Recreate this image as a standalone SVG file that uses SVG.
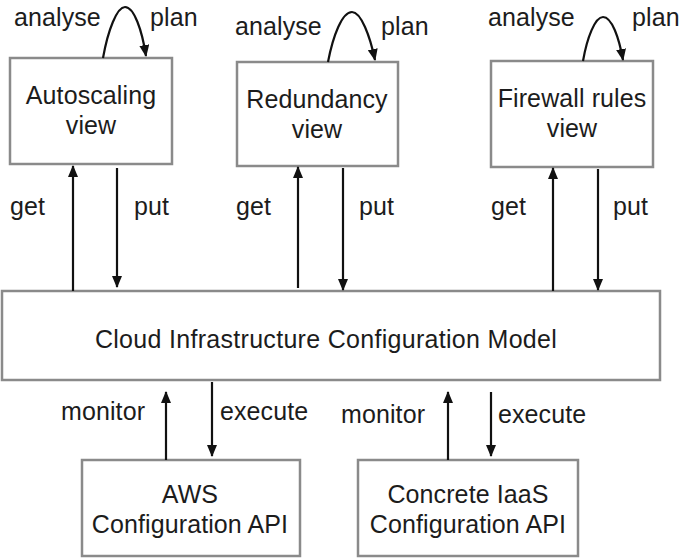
<svg xmlns="http://www.w3.org/2000/svg" width="685" height="559" viewBox="0 0 685 559">
<style>
.box{fill:#fff;stroke:#8a8a8a;stroke-width:2.5}
.t{font-family:"Liberation Sans",Arial,sans-serif;font-size:25px;fill:#1c1c1c;letter-spacing:0.1px}
.c{text-anchor:middle}
.w{letter-spacing:0.3px}
.a{fill:none;stroke:#111;stroke-width:2.2}
</style>
<defs>
<marker id="arr" viewBox="0 0 12 10" refX="11" refY="5" markerWidth="12" markerHeight="10" markerUnits="userSpaceOnUse" orient="auto"><path d="M0,0 L12,5 L0,10 z" fill="#111"/></marker>
</defs>
<rect width="685" height="559" fill="#fff"/>
<g id="autoscaling">
<rect class="box" x="10" y="58" width="162" height="106"/>
<text class="t c" x="91" y="104">Autoscaling</text>
<text class="t c" x="91" y="134">view</text>
</g>
<g id="redundancy">
<rect class="box" x="237" y="62" width="161" height="104"/>
<text class="t c" x="317" y="108">Redundancy</text>
<text class="t c" x="317" y="138">view</text>
</g>
<g id="firewall">
<rect class="box" x="491" y="61" width="162" height="106"/>
<text class="t c" x="572" y="107">Firewall rules</text>
<text class="t c" x="572" y="137">view</text>
</g>
<g id="model">
<rect class="box" x="2" y="291" width="658" height="89"/>
<text class="t c w" x="326" y="348">Cloud Infrastructure Configuration Model</text>
</g>
<g id="aws">
<rect class="box" x="82" y="460" width="218" height="96"/>
<text class="t c" x="190" y="503">AWS</text>
<text class="t c" x="190" y="533">Configuration API</text>
</g>
<g id="iaas">
<rect class="box" x="358" y="460" width="220" height="96"/>
<text class="t c" x="468" y="503">Concrete IaaS</text>
<text class="t c" x="468" y="533">Configuration API</text>
</g>
<g id="connectors">
<path class="a" d="M103,58 C108,30 117,7 125,7 C134,7 142,30 146,56" marker-end="url(#arr)"/>
<path class="a" d="M328,62 C333,36 342,12 352,12 C361,12 370,36 375,60" marker-end="url(#arr)"/>
<path class="a" d="M583,61 C587,38 595,17 603,17 C612,17 619,38 623,60" marker-end="url(#arr)"/>
<line class="a" x1="73" y1="291" x2="73" y2="166" marker-end="url(#arr)"/>
<line class="a" x1="117" y1="168" x2="117" y2="287" marker-end="url(#arr)"/>
<line class="a" x1="298" y1="288" x2="298" y2="167" marker-end="url(#arr)"/>
<line class="a" x1="343" y1="168" x2="343" y2="290" marker-end="url(#arr)"/>
<line class="a" x1="553" y1="291" x2="553" y2="168" marker-end="url(#arr)"/>
<line class="a" x1="598" y1="169" x2="598" y2="290" marker-end="url(#arr)"/>
<line class="a" x1="166" y1="460" x2="166" y2="392" marker-end="url(#arr)"/>
<line class="a" x1="212" y1="382" x2="212" y2="456" marker-end="url(#arr)"/>
<line class="a" x1="448" y1="460" x2="448" y2="392" marker-end="url(#arr)"/>
<line class="a" x1="491" y1="392" x2="491" y2="456" marker-end="url(#arr)"/>
</g>
<g id="labels">
<text class="t" x="14" y="26">analyse</text>
<text class="t" x="150" y="26">plan</text>
<text class="t" x="235" y="35">analyse</text>
<text class="t" x="381" y="35">plan</text>
<text class="t" x="488" y="26">analyse</text>
<text class="t" x="632" y="26">plan</text>
<text class="t" x="10" y="215">get</text>
<text class="t" x="134" y="215">put</text>
<text class="t" x="236" y="215">get</text>
<text class="t" x="359" y="215">put</text>
<text class="t" x="491" y="215">get</text>
<text class="t" x="613" y="215">put</text>
<text class="t" x="61" y="420">monitor</text>
<text class="t" x="220" y="420">execute</text>
<text class="t" x="341" y="423">monitor</text>
<text class="t" x="498" y="423">execute</text>
</g>
</svg>
